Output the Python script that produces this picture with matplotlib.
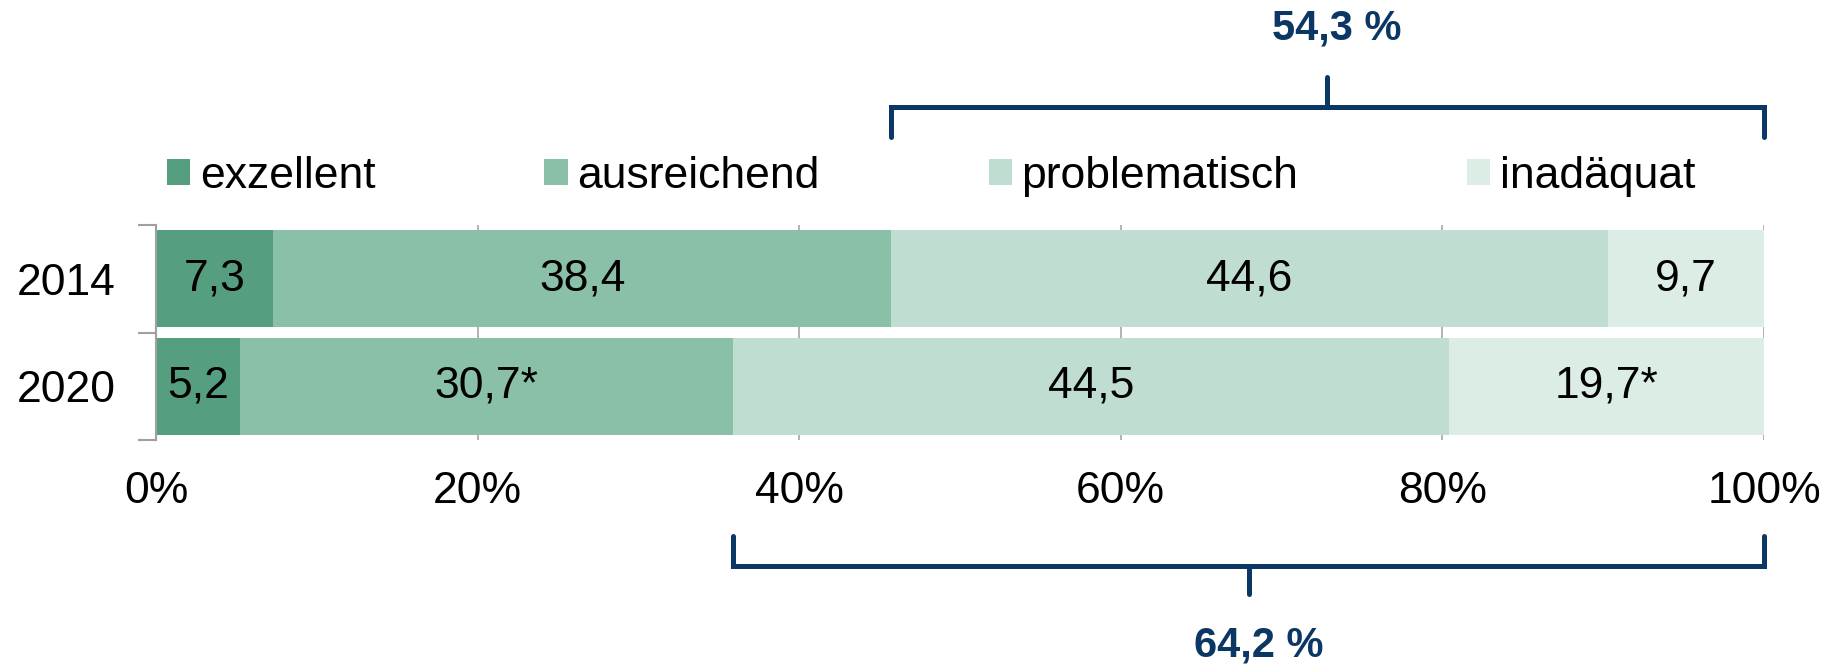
import numpy as np
import matplotlib
matplotlib.use("Agg")
import matplotlib.pyplot as plt

plt.rcParams['font.family'] = ['Liberation Sans', 'DejaVu Sans']

# data
years = ["2014", "2020"]
categories = ["exzellent", "ausreichend", "problematisch", "inadäquat"]
exzellent = [7.3, 5.2]
ausreichend = [38.4, 30.7]
problematisch = [44.6, 44.5]
inadaequat = [9.7, 19.7]
bar_texts = [["7,3", "5,2"], ["38,4", "30,7*"], ["44,6", "44,5"], ["9,7", "19,7*"]]
tick_vals = [0, 20, 40, 60, 80, 100]
tick_labels = ["0%", "20%", "40%", "60%", "80%", "100%"]

colors = ["#559e80", "#8abfa8", "#c0ddd2", "#dcede6"]
navy = "#0b3764"

fig = plt.figure(figsize=(18.32, 6.68), dpi=100)
ax = fig.add_axes([156 / 1832, 1 - 440 / 668, (1764 - 156) / 1832, 215 / 668])

series = [exzellent, ausreichend, problematisch, inadaequat]
y = np.arange(len(years))
left = np.zeros(len(years))
handles = []
for i, vals in enumerate(series):
    bars = ax.barh(y, vals, left=left, height=0.9, color=colors[i], zorder=2, label=categories[i])
    ax.bar_label(bars, labels=bar_texts[i], label_type="center", fontsize=32, color="black")
    handles.append(bars)
    left = left + np.array(vals)

ax.set_xlim(0, 100)
ax.set_ylim(1.5, -0.5)

# x axis: gridlines only
ax.set_xticks(tick_vals)
ax.set_xticklabels(tick_labels, fontsize=32)
ax.tick_params(axis="x", length=0, pad=22)
ax.grid(axis="x", color="#a6a6a6", linewidth=1.2, zorder=0)

# y axis: ticks at boundaries, labels in between
ax.set_yticks([-0.5, 0.5, 1.5])
ax.set_yticklabels([])
ax.set_yticks(y, minor=True)
ax.set_yticklabels(years, minor=True, fontsize=32)
ax.tick_params(axis="y", which="major", length=13, width=1.5, color="#a0a0a0", direction="out")
ax.tick_params(axis="y", which="minor", length=0, pad=29)

for s in ["top", "right", "bottom"]:
    ax.spines[s].set_visible(False)
ax.spines["left"].set_color("#a0a0a0")
ax.spines["left"].set_linewidth(1.5)

fig.legend(handles=handles, labels=categories, ncol=4, loc="center left",
           bbox_to_anchor=(167 / 1832, 1 - 176 / 668), frameon=False, borderpad=0,
           borderaxespad=0, fontsize=32, handlelength=0.52, handleheight=0.52,
           handletextpad=0.22, columnspacing=3.80)

# brackets over the two worst groups
tr = ax.get_xaxis_transform()


def bracket(x0, x1, y_line, y_end, y_tick, y_text, txt):
    xm = (x0 + x1) / 2
    ax.plot([x0, x0, x1, x1], [y_end, y_line, y_line, y_end], color=navy, lw=3.6,
            transform=tr, clip_on=False, solid_capstyle="round", solid_joinstyle="miter")
    ax.plot([xm, xm], [y_line, y_tick], color=navy, lw=3.6, transform=tr,
            clip_on=False, solid_capstyle="round")
    ax.text(xm + 0.6, y_text, txt, transform=tr, ha="center", va="center",
            fontsize=30, fontweight="bold", color=navy)


top_start = exzellent[0] + ausreichend[0]
top_sum = problematisch[0] + inadaequat[0]
bracket(top_start, 100, 1.549, 1.409, 1.688, 1.916, f"{top_sum:.1f} %".replace(".", ","))

bot_start = exzellent[1] + ausreichend[1]
bot_sum = problematisch[1] + inadaequat[1]
bracket(bot_start, 100, -0.586, -0.4465, -0.716, -0.958, f"{bot_sum:.1f} %".replace(".", ","))

fig.savefig("out.png", dpi=100)
